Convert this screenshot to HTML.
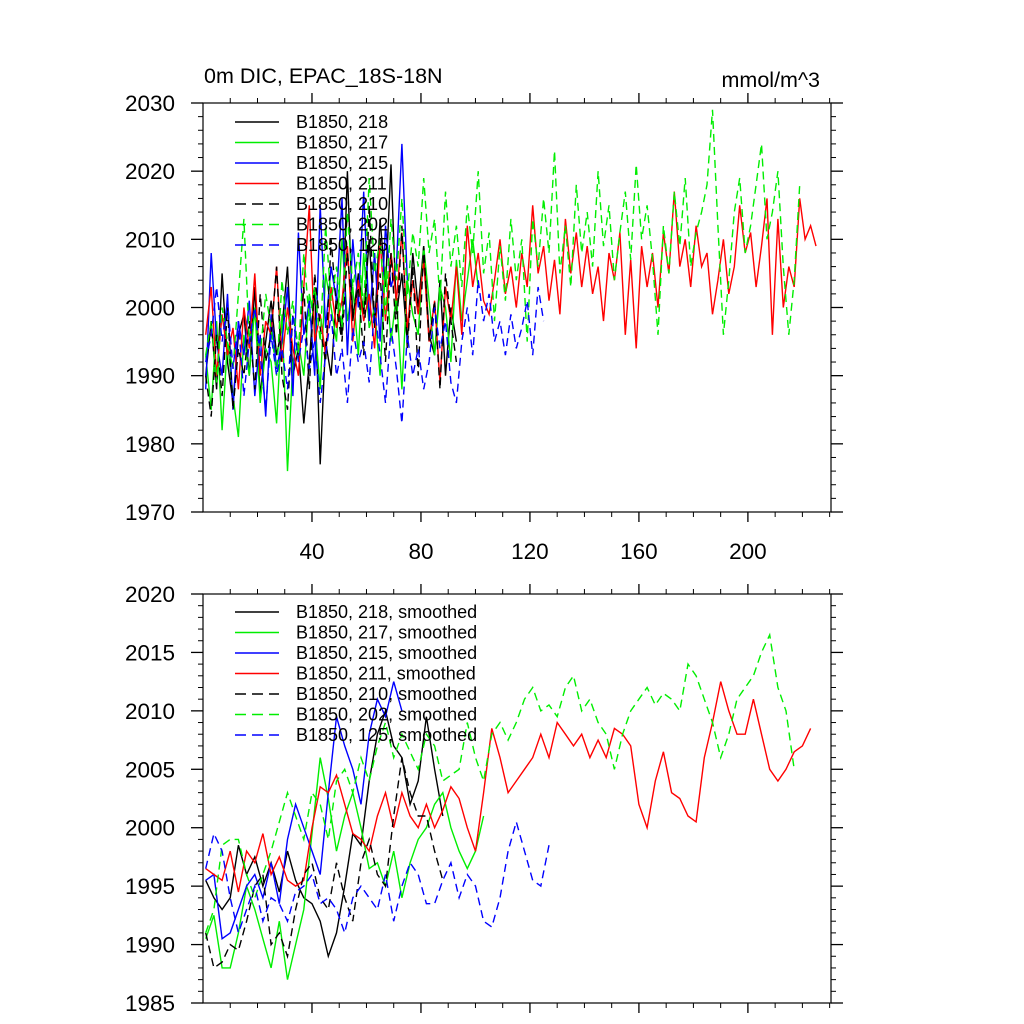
<!DOCTYPE html>
<html><head><meta charset="utf-8">
<style>
html,body{margin:0;padding:0;background:#fff;}
svg{display:block;font-family:"Liberation Sans",sans-serif;}
</style></head>
<body>
<svg id="chart" width="1024" height="1024" viewBox="0 0 1024 1024">
<text x="204" y="83" font-size="21.5">0m DIC, EPAC_18S-18N</text>
<text x="820" y="87" font-size="21.5" text-anchor="end">mmol/m^3</text>
</svg>
<script>
// ---- data ----
const seriesNames = ["B1850, 218","B1850, 217","B1850, 215","B1850, 211","B1850, 210","B1850, 202","B1850, 125"];
const seriesColors = ["#000","#00ee00","#0000ff","#ff0000","#000","#00ee00","#0000ff"];
const seriesDashed = [false,false,false,false,true,true,true];
const xTicks = [40,80,120,160,200];
const yTicksTop = [1970,1980,1990,2000,2010,2020,2030];
const yTicksBot = [1985,1990,1995,2000,2005,2010,2015,2020];
const rawStep = 2, smoothStep = 3;
const raw218 = [1990,1998,1988,2005,1992,1986,1996,1999,1990,2003,1987,1995,2001,1993,1997,2006,1990,1994,1983,1992,2003,1977,1995,1990,2002,1996,2020,1998,2005,1999,2010,1997,2013,2003,2021,1999,2005,1995,2008,2000,2009,1996,1993,2004,1990,2000,1995];
const raw217 = [1993,1985,1998,1982,1995,1987,1981,1996,1990,2000,1986,1994,1992,1983,1999,1976,1992,1995,1990,2002,1998,1988,2005,2000,1995,2010,1998,2003,1993,2008,1997,2000,1990,2006,1995,2002,1988,2004,1999,1996,2009,2001,1993,2003,2000,1992,2007,1998,2004,2010,2003];
const raw215 = [1988,2008,1995,1990,2002,1985,1998,1993,2001,1987,1996,1984,1999,1991,1995,2003,1987,2011,1996,2001,1990,2015,1997,2006,2001,2016,1993,2010,2000,2017,1998,2008,1995,2012,2003,2006,2024,2004];
const raw211 = [1996,2003,1990,1999,1993,1997,1988,2000,1994,2005,1990,1998,1996,2006,1992,2000,1994,1990,2003,2015,1995,1999,1993,2003,1997,2001,2009,1995,2004,1998,2002,1994,2010,1998,2008,2001,2011,1997,2004,1999,2007,1995,2001,1989,2003,1998,2006,1996,2012,2003,2008,2001,1999,2004,2010,2002,2006,2000,2008,2003,2015,2005,2009,2001,2007,1999,2013,2005,2011,2003,2009,2002,2006,1998,2008,2004,2011,1996,2007,1994,2009,2003,2008,2000,2011,2005,2017,2006,2010,2003,2012,2006,2008,1999,2004,2010,2002,2006,2015,2008,2011,2003,2009,2016,1996,2013,2000,2006,2003,2016,2010,2012,2009];
const raw210 = [1990,1984,1996,1987,2000,1985,1994,1990,1998,1988,2002,1992,1996,2006,1990,1985,1999,1994,2003,1988,2005,1997,1992,2010,2000,1995,2008,1999,2003,1993,2015,1998,2005,1992,2008,1996,2012,1994,2006,1990,2009,1995,2001,1988,2005,1998,1992];
const raw202 = [1993,1998,1989,2000,1995,1991,2002,2013,1995,1999,1993,2002,1997,1990,2004,1996,2001,1993,2008,1998,2003,1995,2012,2001,2006,1997,2014,2003,2008,2000,2019,2005,2010,1999,2013,2004,2016,2002,2011,2006,2019,2008,2013,2001,2017,2006,2012,2003,2015,2008,2020,2005,2011,1998,2009,2001,2013,2004,2010,1995,2013,2006,2016,2008,2023,2005,2012,2003,2018,2008,2014,2006,2020,2009,2015,2004,2011,2017,2007,2021,2010,2015,2007,1996,2012,2005,2017,2009,2019,2006,2011,2014,2018,2029,2012,1996,2004,2014,2019,2008,2012,2018,2024,2010,2014,2020,2006,1996,2004,2018];
const raw125 = [1992,1996,2003,1995,2001,1991,1998,1987,1995,2000,1993,1985,1996,1990,1994,1988,1999,1992,1997,1991,1995,1986,1993,1999,1990,1994,1986,1997,1992,1995,1989,2000,1993,1986,1997,1991,1983,1996,1990,1994,1988,1992,2000,1994,1998,1989,1986,1995,2000,1993,2004,1998,2002,1995,1998,1993,1999,1994,1997,2001,1993,2003,1998];
const sm218 = [1995.5,1994,1993,1994,1998.5,1996,1997.5,1995,1997,1994.5,1998,1995.5,1994,1993.5,1992,1989,1991,1995,1999.5,1998.5,2004,2008,2010,2007,2006,2002,2004,2009.5,2005,2001];
const sm217 = [1990.5,1992.5,1988,1988,1991,1995,1993,1990.5,1988,1992,1987,1990,1993,1999.5,2006,2002.5,1998,2001,2003,2000,1996.5,1997,1995,1998,1994,1997,1999,2000,2002,2003,2000,1998,1996.5,1998,2001];
const sm215 = [1995.5,1996,1990.5,1991,1993,1995,1996,1994,1997,1993.5,1999,2002,2000,1998,1996,2003,2009.5,2007,2005,2002,2008,2011,2009.5,2012.5,2010];
const sm211 = [1996.5,1996,1995.5,1998,1994.5,1998,1997,1999.5,1996,1997.5,1995.5,1995,1995.5,2000,2003.5,2003,2004.5,2002,1999.5,1999,1998,2001,2003,2000,2003,2001,2000,2002,2000,2001.5,2003.5,2002.5,2000,1998,2003,2008.5,2006,2003,2004,2005,2006,2008,2006,2009,2008,2007,2008,2006,2007.5,2006,2008.5,2008,2007,2002,2000,2004,2006.5,2003,2002.5,2001,2000.5,2006,2009,2012.5,2010,2008,2008,2011,2008,2005,2004,2005,2006.5,2007,2008.5];
const sm210 = [1991,1988,1988.5,1990,1989.5,1992,1995,1996,1990,1991,1989,1993,1996,1997,1994,1993,1997,1994,1992,1997,1999,1996,1995,2001,2006,2003,2001,2001,1998,1995.5];
const sm202 = [1991,1993,1998.5,1999,1999,1996,1994,1996,1998,2000.5,2003,2001,1999,2003,2002,1999,2004,2005,2003,2006,2004,2007,2009,2006,2008,2006.5,2005,2008,2007,2004,2004.5,2005,2009,2006,2004,2008,2009,2007.5,2009,2011,2012,2010,2010.5,2009.5,2012,2013,2010,2011,2009,2008,2005,2008,2010,2011,2012,2010.5,2011.5,2011,2010,2014,2013,2011,2009,2006,2008,2011,2012,2013,2015,2016.5,2012,2010,2005];
const sm125 = [1996.5,1999.5,1998,1994,1991,1993,1995,1992,1994,1993.5,1992,1994.5,1995,1996,1993.5,1994,1993,1991,1994,1995,1994,1993,1996,1992,1995,1997,1996,1993.5,1993.5,1995.5,1997,1994,1996,1995,1992,1991.5,1994,1998,2000.5,1998,1995.5,1995,1998.5];
const rawSeries = [raw218,raw217,raw215,raw211,raw210,raw202,raw125];
const smSeries = [sm218,sm217,sm215,sm211,sm210,sm202,sm125];

// ---- drawing ----
const NS="http://www.w3.org/2000/svg";
const svg=document.getElementById('chart');
function mk(tag,attrs,parent){const e=document.createElementNS(NS,tag);for(const k in attrs)e.setAttribute(k,attrs[k]);(parent||svg).appendChild(e);return e;}
const L=203,R=831,XMIN=0,XMAX=230.5;
const xs=v=>L+(v-XMIN)/(XMAX-XMIN)*(R-L);

function panel(top,bot,ymin,ymax,yTicks,yMinorStep,series,step,suffix,name,legTop,showX){
  const ys=v=>bot-(v-ymin)/(ymax-ymin)*(bot-top);
  const g=mk('g',{});
  
  
  const clip=mk('clipPath',{id:'clip-'+name},g);
  mk('rect',{x:L,y:top,width:R-L,height:bot-top},clip);
  const lines=mk('g',{'clip-path':'url(#clip-'+name+')'},g);
  series.forEach((arr,si)=>{
    let d='';
    arr.forEach((v,i)=>{const x=1+i*step;d+=(i?'L':'M')+xs(x).toFixed(1)+','+ys(v).toFixed(1);});
    const p=mk('path',{d:d,fill:'none',stroke:seriesColors[si],'stroke-width':1.4,'stroke-dasharray':seriesDashed[si]?'8,5':'none'},lines);
    
    
  });
  mk('rect',{x:L,y:top,width:R-L,height:bot-top,fill:'none',stroke:'#000','stroke-width':1.2},g);
  // y ticks (outward)
  for(let v=ymin;v<=ymax+1e-6;v+=yMinorStep){
    const y=ys(v);const major=yTicks.includes(Math.round(v*100)/100);
    const len=major?12:5;
    mk('line',{x1:L,x2:L-len,y1:y,y2:y,stroke:'#000','stroke-width':major?1.3:1},g);
    mk('line',{x1:R,x2:R+len,y1:y,y2:y,stroke:'#000','stroke-width':major?1.3:1},g);
  }
  yTicks.forEach(v=>{
    const t=mk('text',{x:L-28,y:ys(v)+8,'font-size':22.5,'text-anchor':'end'},g);
    t.textContent=v;
    
    
  });
  // x ticks (outward)
  for(let v=10;v<=XMAX;v+=10){
    const x=xs(v);const major=v%40===0;const len=major?10:5;
    mk('line',{x1:x,x2:x,y1:bot,y2:bot+len,stroke:'#000','stroke-width':major?1.3:1},g);
    mk('line',{x1:x,x2:x,y1:top,y2:top-len,stroke:'#000','stroke-width':major?1.3:1},g);
  }
  if(showX){xTicks.forEach(v=>{
    const t=mk('text',{x:xs(v),y:bot+47,'font-size':22.5,'text-anchor':'middle'},g);
    t.textContent=v;
    
    
  });}
  const lg=mk('g',{},g);
  
  
  seriesNames.forEach((n,i)=>{
    const y=legTop+i*20.5;
    mk('line',{x1:235,x2:279,y1:y,y2:y,stroke:seriesColors[i],'stroke-width':1.4,'stroke-dasharray':seriesDashed[i]?'11,6':'none'},lg);
    const t=mk('text',{x:296,y:y+6,'font-size':18},lg);
    t.textContent=n+suffix;
    
    
  });
}
panel(103,512,1970,2030,yTicksTop,2,rawSeries,rawStep,'','top-panel',122,true);
panel(594,1003,1985,2020,yTicksBot,1,smSeries,smoothStep,', smoothed','bottom-panel',612,false);
</script>
</body></html>
